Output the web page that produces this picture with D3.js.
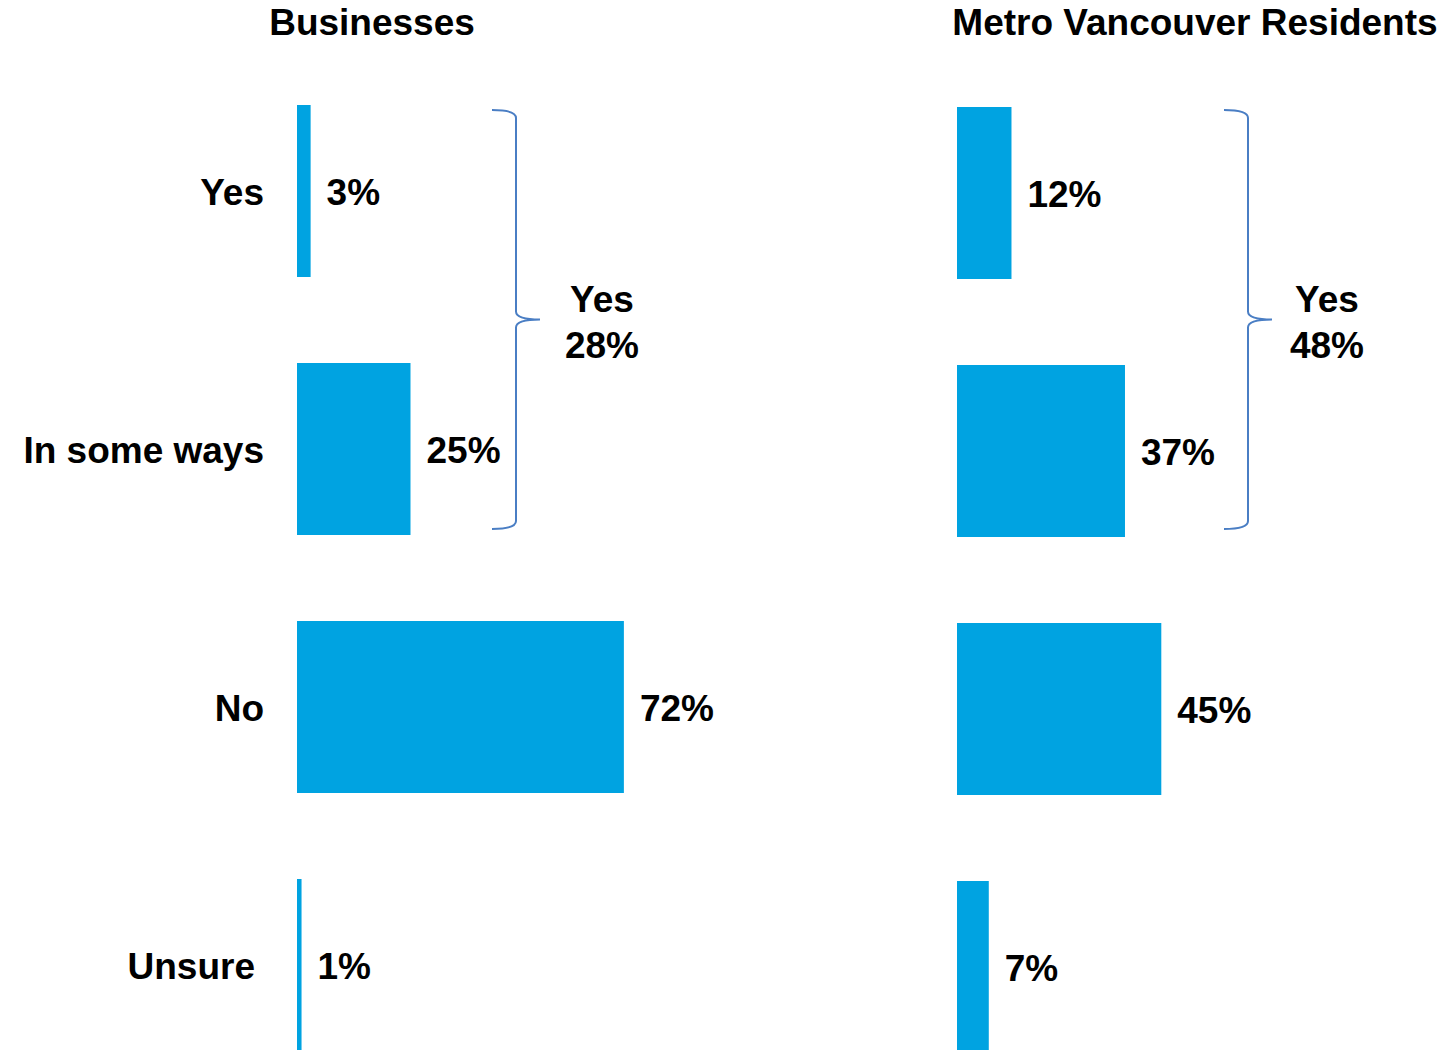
<!DOCTYPE html>
<html>
<head>
<meta charset="utf-8">
<script src="https://cdn.jsdelivr.net/npm/d3@7"></script>
<style>
  html, body { margin: 0; padding: 0; background: #fff; }
  svg { display: block; }
  text { font-family: "Liberation Sans", Arial, sans-serif; font-weight: bold; fill: #000; }
</style>
</head>
<body>
<svg id="chart" width="1453" height="1050"></svg>
<script>
// ---- data ----
const categories = ["Yes", "In some ways", "No", "Unsure"];
const panelTitles = ["Businesses", "Metro Vancouver Residents"];
const businessValues = [3, 25, 72, 1];
const residentValues = [12, 37, 45, 7];
const bracketLabel = "Yes";
const bracketValues = [28, 48];

// ---- layout ----
const svg = d3.select("#chart");
const color = "#00A3E1";
const braceColor = "#4A7EC4";
const fs = "37px";

const panels = [
  { title: panelTitles[0], values: businessValues, x0: 297, dy: 0, titleX: 372, braceX: 492, labelX: 602, bracket: bracketValues[0], showCats: true },
  { title: panelTitles[1], values: residentValues, x0: 957, dy: 2, titleX: 1195, braceX: 1224, labelX: 1327, bracket: bracketValues[1], showCats: false }
];

const x = d3.scaleLinear().domain([0, 100]).range([0, 454]);
const y = d3.scaleBand().domain(categories).range([105, 1051]).paddingInner(1/3).paddingOuter(0);

panels.forEach(p => {
  const g = svg.append("g").attr("transform", `translate(${p.x0},${p.dy})`);

  svg.append("text")
    .attr("x", p.titleX).attr("y", 35)
    .attr("text-anchor", "middle")
    .style("font-size", fs)
    .text(p.title);

  const data = categories.map((c, i) => ({ c, v: p.values[i] }));

  g.selectAll("rect").data(data).enter().append("rect")
    .attr("x", x(0))
    .attr("y", d => y(d.c))
    .attr("width", d => Math.max(2, x(d.v)))
    .attr("height", y.bandwidth())
    .attr("fill", color);

  g.selectAll("text.val").data(data).enter().append("text")
    .attr("class", "val")
    .attr("x", d => Math.max(2, x(d.v)) + 16)
    .attr("y", d => y(d.c) + y.bandwidth() / 2 + 1)
    .attr("dy", "0.35em")
    .style("font-size", fs)
    .text(d => d.v + "%");

  if (p.showCats) {
    svg.selectAll("text.cat").data(data).enter().append("text")
      .attr("class", "cat")
      .attr("x", d => d.c === "Unsure" ? 255 : 264)
      .attr("y", d => y(d.c) + y.bandwidth() / 2 + 1)
      .attr("dy", "0.35em")
      .attr("text-anchor", "end")
      .style("font-size", fs)
      .text(d => d.c);
  }

  // brace spanning Yes + In some ways
  const top = y(categories[0]) + 5;
  const bot = y(categories[1]) + y.bandwidth() - 6;
  const mid = (top + bot) / 2;
  const bx = p.braceX, vx = bx + 24, tx = bx + 48;
  const r = 8;
  const path = `M${bx},${top} Q${vx},${top} ${vx},${top + r} L${vx},${mid - r} Q${vx},${mid} ${tx},${mid} Q${vx},${mid} ${vx},${mid + r} L${vx},${bot - r} Q${vx},${bot} ${bx},${bot}`;
  svg.append("path")
    .attr("d", path)
    .attr("fill", "none")
    .attr("stroke", braceColor)
    .attr("stroke-width", 2);

  svg.append("text")
    .attr("x", p.labelX).attr("y", 312)
    .attr("text-anchor", "middle")
    .style("font-size", fs)
    .text(bracketLabel);
  svg.append("text")
    .attr("x", p.labelX).attr("y", 358)
    .attr("text-anchor", "middle")
    .style("font-size", fs)
    .text(p.bracket + "%");
});
</script>
</body>
</html>
